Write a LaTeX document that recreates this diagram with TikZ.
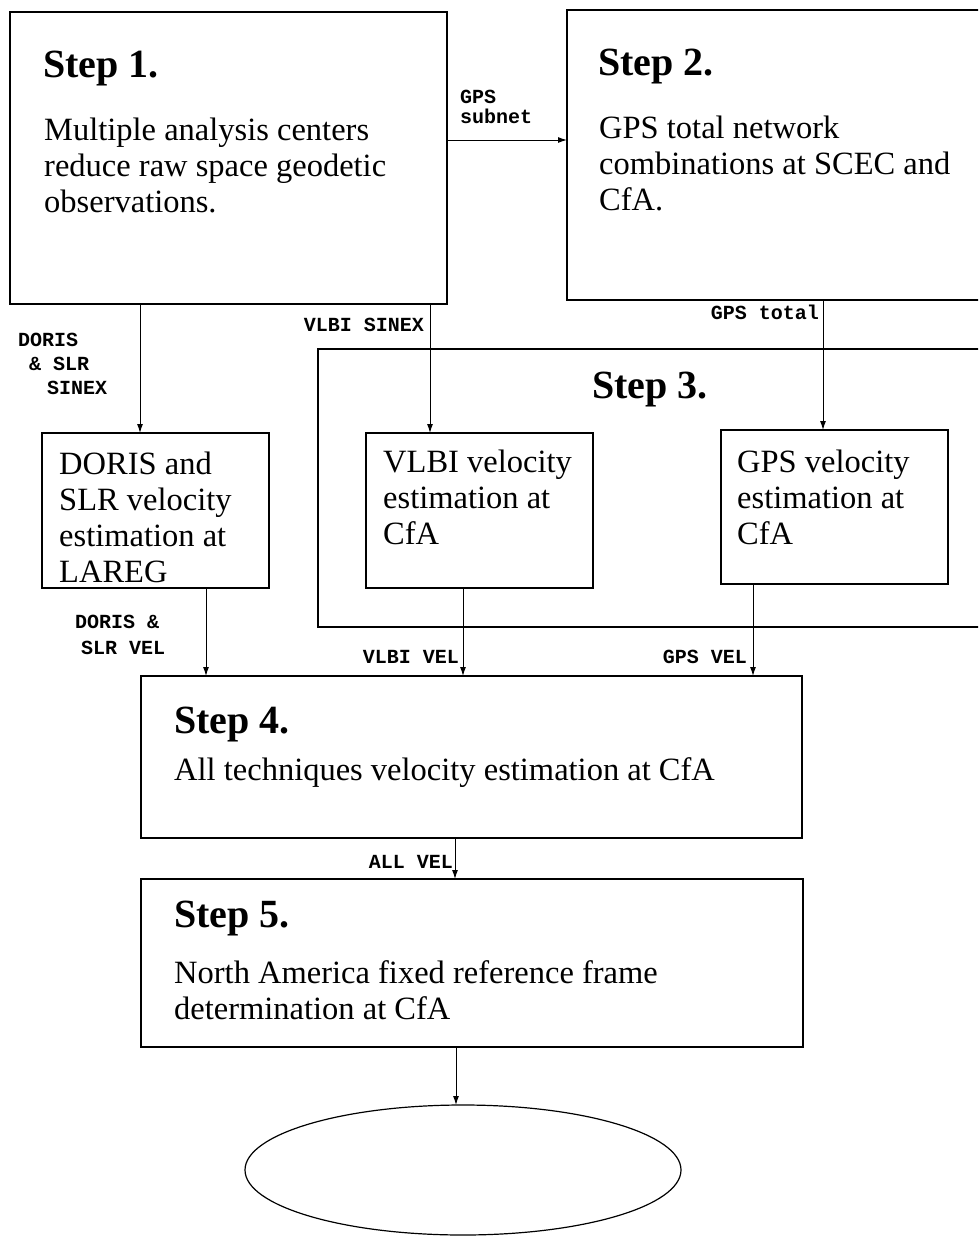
\documentclass[tikz,border=0pt]{standalone}
\usepackage{fontspec}
\setmainfont{Liberation Serif}
\setmonofont{Liberation Mono}
\usetikzlibrary{arrows.meta,shapes.geometric}
\newcommand\mlines[1]{\begin{tabular}[t]{@{}l@{}}#1\end{tabular}}
\begin{document}
\begin{tikzpicture}[x=1pt,y=-1pt,
  box/.style={draw, line width=1.2pt, inner sep=0pt, outer sep=0pt, anchor=north west},
  head/.style={font=\fontsize{40}{44}\selectfont\bfseries, anchor=base west, inner sep=0pt},
  body/.style={font=\fontsize{32.5}{36}\selectfont, anchor=base west, inner sep=0pt},
  lab/.style={font=\fontsize{20}{24}\selectfont\ttfamily\bfseries, anchor=base west, inner sep=0pt},
  arr/.style={-{Latex[length=9pt,width=6pt]}, line width=1pt}]
\useasboundingbox (0,0) rectangle (978,1237);
\clip (0,0) rectangle (978,1237);
% boxes
\node[box, minimum width=437pt, minimum height=292pt] (s1) at (10,12) {};
\node[box, minimum width=433pt, minimum height=290pt] (s2) at (567,10) {};
\node[box, minimum width=682pt, minimum height=278pt] (s3) at (318,349) {};
\node[box, minimum width=227pt, minimum height=155pt] (doris) at (42,433) {};
\node[box, minimum width=227pt, minimum height=155pt] (vlbi) at (366,433) {};
\node[box, minimum width=227pt, minimum height=154pt] (gps) at (721,430) {};
\node[box, minimum width=661pt, minimum height=162pt] (s4) at (141,676) {};
\node[box, minimum width=662pt, minimum height=168pt] (s5) at (141,879) {};
\node[draw, ellipse, line width=1.2pt, inner sep=0pt, outer sep=0pt, minimum width=436pt, minimum height=130pt] (res) at (463,1170) {};
% headings
\node[head] (h1) at (43,77) {Step 1.};
\node[head] (h2) at (598,75) {Step 2.};
\node[head] (h3) at (592,398) {Step 3.};
\node[head] (h4) at (174,733) {Step 4.};
\node[head] (h5) at (174,927) {Step 5.};
% body texts
\node[body] (t1) at (44,140) {\mlines{Multiple analysis centers\\reduce raw space geodetic\\observations.}};
\node[body] (t2) at (599,138) {\mlines{GPS total network\\combinations at SCEC and\\CfA.}};
\node[body] (td) at (59,474) {\mlines{DORIS and\\SLR velocity\\estimation at\\LAREG}};
\node[body] (tv) at (383,472) {\mlines{VLBI velocity\\estimation at\\CfA}};
\node[body] (tg) at (737,472) {\mlines{GPS velocity\\estimation at\\CfA}};
\node[body] (t4) at (174,780) {All techniques velocity estimation at CfA};
\node[body] (t5) at (174,983) {\mlines{North America fixed reference frame\\determination at CfA}};
% arrow coordinates
\coordinate (ay1) at (0,140);
\coordinate (ax1) at (140,0);
\coordinate (ax2) at (430,0);
\coordinate (ax3) at (823,0);
\coordinate (ax4) at (206,0);
\coordinate (ax5) at (463,0);
\coordinate (ax6) at (753,0);
\coordinate (ax7) at (455,0);
\coordinate (ax8) at (456,0);
% connectors
\draw[arr] (s1.east |- ay1) -- (s2.west |- ay1);
\draw[arr] (s1.south -| ax1) -- (doris.north -| ax1);
\draw[arr] (s1.south -| ax2) -- (vlbi.north -| ax2);
\draw[arr] (s2.south -| ax3) -- (gps.north -| ax3);
\draw[arr] (doris.south -| ax4) -- (s4.north -| ax4);
\draw[arr] (vlbi.south -| ax5) -- (s4.north -| ax5);
\draw[arr] (gps.south -| ax6) -- (s4.north -| ax6);
\draw[arr] (s4.south -| ax7) -- (s5.north -| ax7);
\draw[arr] (s5.south -| ax8) -- (res.north -| ax8);
% connector labels
\node[lab] (l1) at (460,103) {\mlines{GPS\\[-4pt]subnet}};
\node[lab] (l2) at (18,346) {\mlines{DORIS\\\hspace*{11pt}\& SLR\\\hspace*{29pt}SINEX}};
\node[lab, anchor=base east] (l3) at (424,331) {VLBI SINEX};
\node[lab, anchor=base east] (l4) at (819,319) {GPS total};
\node[lab] (l5) at (75,628) {\mlines{DORIS \&\\[2pt]\hspace*{6pt}SLR VEL}};
\node[lab, anchor=base east] (l6) at (459,663) {VLBI VEL};
\node[lab, anchor=base east] (l7) at (747,663) {GPS VEL};
\node[lab, anchor=base east] (l8) at (453,868) {ALL VEL};
\end{tikzpicture}
\end{document}
